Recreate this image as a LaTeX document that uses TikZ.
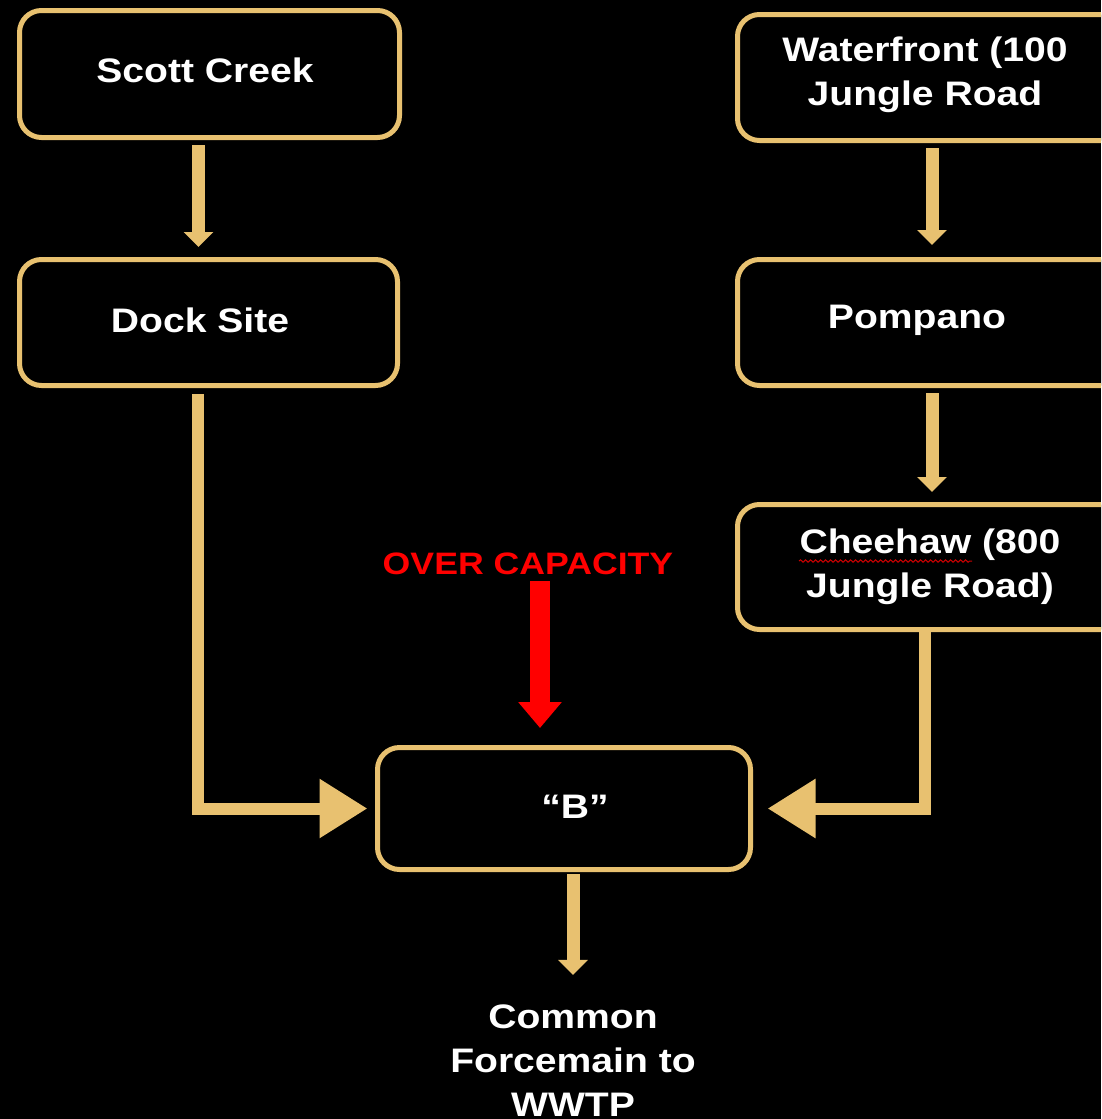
\documentclass[tikz,border=0pt]{standalone}
\usepackage{fontspec}
\setmainfont{Liberation Sans}[FakeStretch=1.15]
\usetikzlibrary{arrows.meta,calc,decorations.pathmorphing}
\definecolor{tanc}{RGB}{232,193,112}
\definecolor{redc}{RGB}{255,0,0}
\begin{document}
\begin{tikzpicture}[x=1pt,y=-1pt,
  box/.style={draw=tanc,line width=5pt,rounded corners=22pt,fill=black,inner sep=0pt},
  lbl/.style={text=white,font=\fontsize{34}{44}\selectfont\bfseries,align=center,inner sep=0pt},
  smallarr/.style={draw=tanc,line width=13pt,-{Triangle[width=29pt,length=15pt]}},
  bigarr/.style={draw=tanc,line width=12pt,-{Triangle[width=56pt,length=48pt]}},
  redarr/.style={draw=redc,line width=20pt,-{Triangle[width=42pt,length=26pt]}}]
\clip (0,0) rectangle (1101,1119);
\fill[black] (0,0) rectangle (1101,1119);
% boxes
\node[box,minimum width=380pt,minimum height=127pt] (sc) at (209.5,74) {};
\node[box,minimum width=400pt,minimum height=126pt] (wf) at (937.5,77.5) {};
\node[box,minimum width=378pt,minimum height=126pt] (ds) at (208.5,322.5) {};
\node[box,minimum width=400pt,minimum height=126pt] (pp) at (937.5,322.5) {};
\node[box,minimum width=400pt,minimum height=125pt] (ch) at (937.5,567) {};
\node[box,minimum width=373pt,minimum height=122pt] (bb) at (564,808.5) {};
% texts
\node[lbl] (tsc) at (205,70) {Scott Creek};
\node[lbl] (twf) at (925,75) {Waterfront (100\\Jungle Road};
\node[lbl] (tds) at (200,320) {Dock Site};
\node[lbl] (tpp) at (917,320) {Pompano};
\node[lbl] (tch) at (930,567) {Cheehaw (800\\Jungle Road)};
\node[lbl] (tbb) at (575,807) {“B”};
\node[lbl] (tcm) at (573,1061) {Common\\Forcemain to\\WWTP};
\node[text=redc,font=\fontsize{31}{36}\selectfont\bfseries,inner sep=0pt] (oc) at (528,564) {OVER CAPACITY};
% spell-check underline
\draw[redc!80!black,line width=1pt,decorate,decoration={snake,segment length=5pt,amplitude=1.2pt}]
  (799,561) -- (972,561);
% connectors
\draw[smallarr,shorten <=5pt,shorten >=10pt] ([xshift=-11pt]sc.south) -- ([xshift=-11pt]sc.south |- ds.north);
\draw[smallarr,shorten <=5pt,shorten >=12pt] ([xshift=-5.5pt]wf.south) -- ([xshift=-5.5pt]wf.south |- pp.north);
\draw[smallarr,shorten <=5pt,shorten >=10pt] ([xshift=-5.5pt]pp.south) -- ([xshift=-5.5pt]pp.south |- ch.north);
\draw[bigarr,shorten <=6pt,shorten >=7.5pt] ([xshift=-10.5pt]ds.south) |- (bb.west);
\draw[bigarr,shorten <=0pt,shorten >=14.5pt] ([xshift=-12.5pt]ch.south) |- (bb.east);
\draw[smallarr,shorten <=2pt,shorten >=30pt] ([xshift=9pt]bb.south) -- (tcm.north);
\draw[redarr,shorten <=6pt,shorten >=17pt] ([xshift=12pt]oc.south) -- ([xshift=12pt]oc.south |- bb.north);
\end{tikzpicture}
\end{document}
